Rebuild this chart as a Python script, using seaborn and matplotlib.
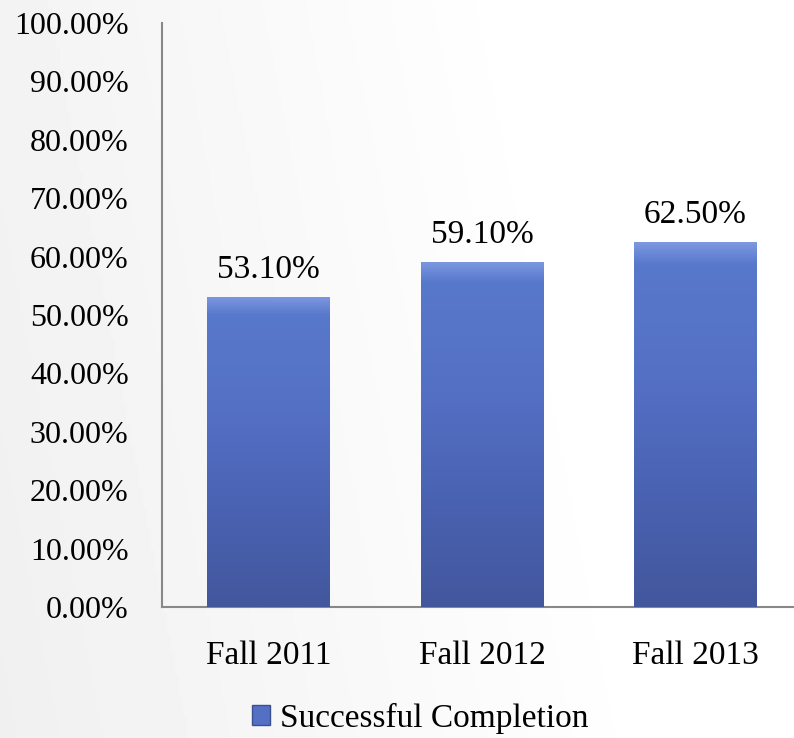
import numpy as np
import pandas as pd
import matplotlib
matplotlib.use("Agg")
import matplotlib.pyplot as plt
import seaborn as sns
from matplotlib.patches import Patch
from matplotlib.colors import LinearSegmentedColormap

categories = ["Fall 2011", "Fall 2012", "Fall 2013"]
values = [53.10, 59.10, 62.50]
yticks = [0, 10, 20, 30, 40, 50, 60, 70, 80, 90, 100]
series_name = "Successful Completion"

sns.set_theme(style="white")
plt.rcParams['font.family'] = ['Liberation Serif', 'DejaVu Serif']

fig = plt.figure(figsize=(7.94, 7.38), dpi=100)

# background gradient (diagonal, light gray to white)
bg = fig.add_axes([0, 0, 1, 1], zorder=-10)
xx, yy = np.meshgrid(np.linspace(0, 1, 200), np.linspace(0, 1, 200))
g = np.clip(0.94 + 0.085 * (xx * 0.85 + (1 - yy) * 0.15), 0, 1)
bg.imshow(g, cmap="gray", vmin=0, vmax=1, aspect="auto", extent=[0, 1, 0, 1])
bg.axis("off")

ax = fig.add_axes([162/794, 1 - 607/738, 640/794, 584/738])
ax.patch.set_alpha(0)

df = pd.DataFrame({"category": categories, "value": values})
sns.barplot(data=df, x="category", y="value", ax=ax, color="#5069BA",
            width=0.576, edgecolor="none", linewidth=0, saturation=1)

bar_cmap = LinearSegmentedColormap.from_list(
    "bar", ["#42579C", "#4A62B2", "#5470C4", "#5878CC", "#7D98E0"])
grad = np.concatenate([np.linspace(0, 0.75, 240), np.linspace(0.75, 1.0, 16)])[:, None]
for p in list(ax.patches):
    x0, y0 = p.get_x(), p.get_y()
    w, h = p.get_width(), p.get_height()
    im = ax.imshow(grad, cmap=bar_cmap, vmin=0, vmax=1, aspect="auto",
                   extent=[x0, x0 + w, y0, y0 + h], origin="lower", zorder=3)
    im.set_clip_path(p)
ax.set_aspect("auto")

for i, v in enumerate(values):
    ax.text(i, v + 2.0, f"{v:.2f}%", ha="center", va="bottom", fontsize=24, color="black")

ax.set_ylim(0, 100)
ax.set_xlim(-0.5, 2.5)
ax.set_yticks(yticks)
ax.set_yticklabels([f"{t:.2f}%" for t in yticks], fontsize=23, color="black")
ax.tick_params(axis="x", labelsize=24, pad=24, length=0, labelcolor="black")
ax.tick_params(axis="y", pad=24, length=0)
ax.set_xlabel("")
ax.set_ylabel("")
for s in ["top", "right"]:
    ax.spines[s].set_visible(False)
for s in ["left", "bottom"]:
    ax.spines[s].set_color("#888888")
    ax.spines[s].set_linewidth(1.5)

handle = Patch(facecolor="#5470C4", edgecolor="#3A4E90", label=series_name)
fig.legend(handles=[handle], loc="center", bbox_to_anchor=(420/794, 1 - 718/738),
           frameon=False, fontsize=24, handlelength=0.55, handleheight=0.55,
           handletextpad=0.3, labelcolor="black")

fig.savefig("out.png", dpi=100)
